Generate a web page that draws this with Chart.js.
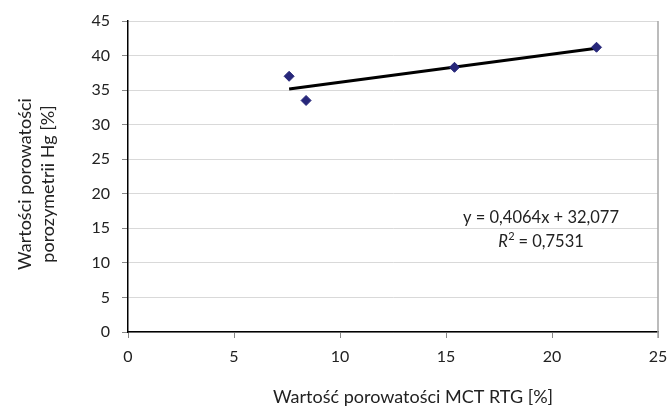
<!DOCTYPE html>
<html>
<head>
<meta charset="utf-8">
<script src="https://cdn.jsdelivr.net/npm/chart.js@4/dist/chart.umd.min.js"></script>
<style>
  html, body { margin: 0; padding: 0; background: #fff; }
  #wrap { width: 667px; height: 409px; }
</style>
</head>
<body>
<div id="wrap"><canvas id="chart"></canvas></div>
<script>
// points
let mctValues = [7.6, 8.4, 15.4, 22.1];
let hgValues = [37.0, 33.5, 38.3, 41.2];

// trend line as printed on the chart
let slope = 0.4064;
let intercept = 32.077;
let trendX = [7.6, 22.1];

let xTitle = 'Wartość porowatości MCT RTG [%]';
let yTitle = ['Wartości porowatości', 'porozymetrii Hg [%]'];
let eqText = 'y = 0,4064x + 32,077';
let r2Value = ' = 0,7531';

let FONT = 'Lato, "Open Sans", sans-serif';

let points = mctValues.map((x, i) => ({ x: x, y: hgValues[i] }));
let trend = trendX.map(x => ({ x: x, y: slope * x + intercept }));

let extras = {
  id: 'extras',
  afterDraw(chart) {
    let c = chart.ctx;
    let a = chart.chartArea;
    c.save();
    // right frame line
    c.strokeStyle = '#a6a6a6';
    c.lineWidth = 1.5;
    c.beginPath();
    c.moveTo(a.right, a.top);
    c.lineTo(a.right, a.bottom + 6);
    c.stroke();

    c.fillStyle = '#222';
    c.font = '18px ' + FONT;
    c.textAlign = 'center';
    c.textBaseline = 'middle';
    // x title
    c.fillText(xTitle, 413, 397);
    // y title
    c.save();
    c.translate(25, 184);
    c.rotate(-Math.PI / 2);
    c.fillText(yTitle[0], 0, 0);
    c.fillText(yTitle[1], 0, 23);
    c.restore();

    // equation
    let cx = 541;
    c.font = '16.5px ' + FONT;
    c.fillText(eqText, cx, 218);
    c.font = 'italic 16.5px ' + FONT;
    let wR = c.measureText('R').width;
    c.font = '11px ' + FONT;
    let w2 = c.measureText('2').width;
    c.font = '16.5px ' + FONT;
    let wV = c.measureText(r2Value).width;
    let start = cx - (wR + w2 + wV) / 2;
    c.textAlign = 'left';
    c.font = 'italic 16.5px ' + FONT;
    c.fillText('R', start, 242);
    c.font = '11px ' + FONT;
    c.fillText('2', start + wR + 0.5, 236);
    c.font = '16.5px ' + FONT;
    c.fillText(r2Value, start + wR + w2, 242);
    c.restore();
  }
};

let ctx = document.getElementById('chart').getContext('2d');

let chart = new Chart(ctx, {
  type: 'scatter',
  data: {
    datasets: [{
      label: 'Hg',
      data: points,
      pointStyle: 'rectRot',
      pointRadius: 5,
      pointHoverRadius: 5,
      backgroundColor: '#27277a',
      borderColor: '#27277a',
      borderWidth: 1
    }, {
      type: 'line',
      label: 'trend',
      data: trend,
      borderColor: '#000',
      borderWidth: 3,
      pointRadius: 0,
      fill: false
    }]
  },
  options: {
    responsive: true,
    maintainAspectRatio: false,
    animation: false,
    layout: { padding: { left: 0, top: 21, right: 9, bottom: 0 } },
    plugins: {
      legend: { display: false },
      tooltip: { enabled: false }
    },
    scales: {
      x: {
        type: 'linear',
        min: 0,
        max: 25,
        ticks: { stepSize: 5, color: '#222', font: { family: FONT, size: 16 }, padding: 9, maxRotation: 0 },
        grid: { drawOnChartArea: false, tickLength: 6, tickColor: '#888' },
        border: { color: '#000', width: 1.5 },
        afterFit(scale) {
          scale.height = 77;
          scale.paddingLeft = 0;
          scale.paddingRight = 0;
        }
      },
      y: {
        min: 0,
        max: 45,
        ticks: { stepSize: 5, color: '#222', font: { family: FONT, size: 16 }, padding: 12 },
        grid: { color: '#d9d9d9', tickLength: 6, tickColor: '#888' },
        border: { color: '#000', width: 1.5 },
        afterFit(scale) {
          scale.width = 128;
          scale.paddingTop = 0;
          scale.paddingBottom = 0;
        }
      }
    }
  },
  plugins: [extras]
});
</script>
</body>
</html>
